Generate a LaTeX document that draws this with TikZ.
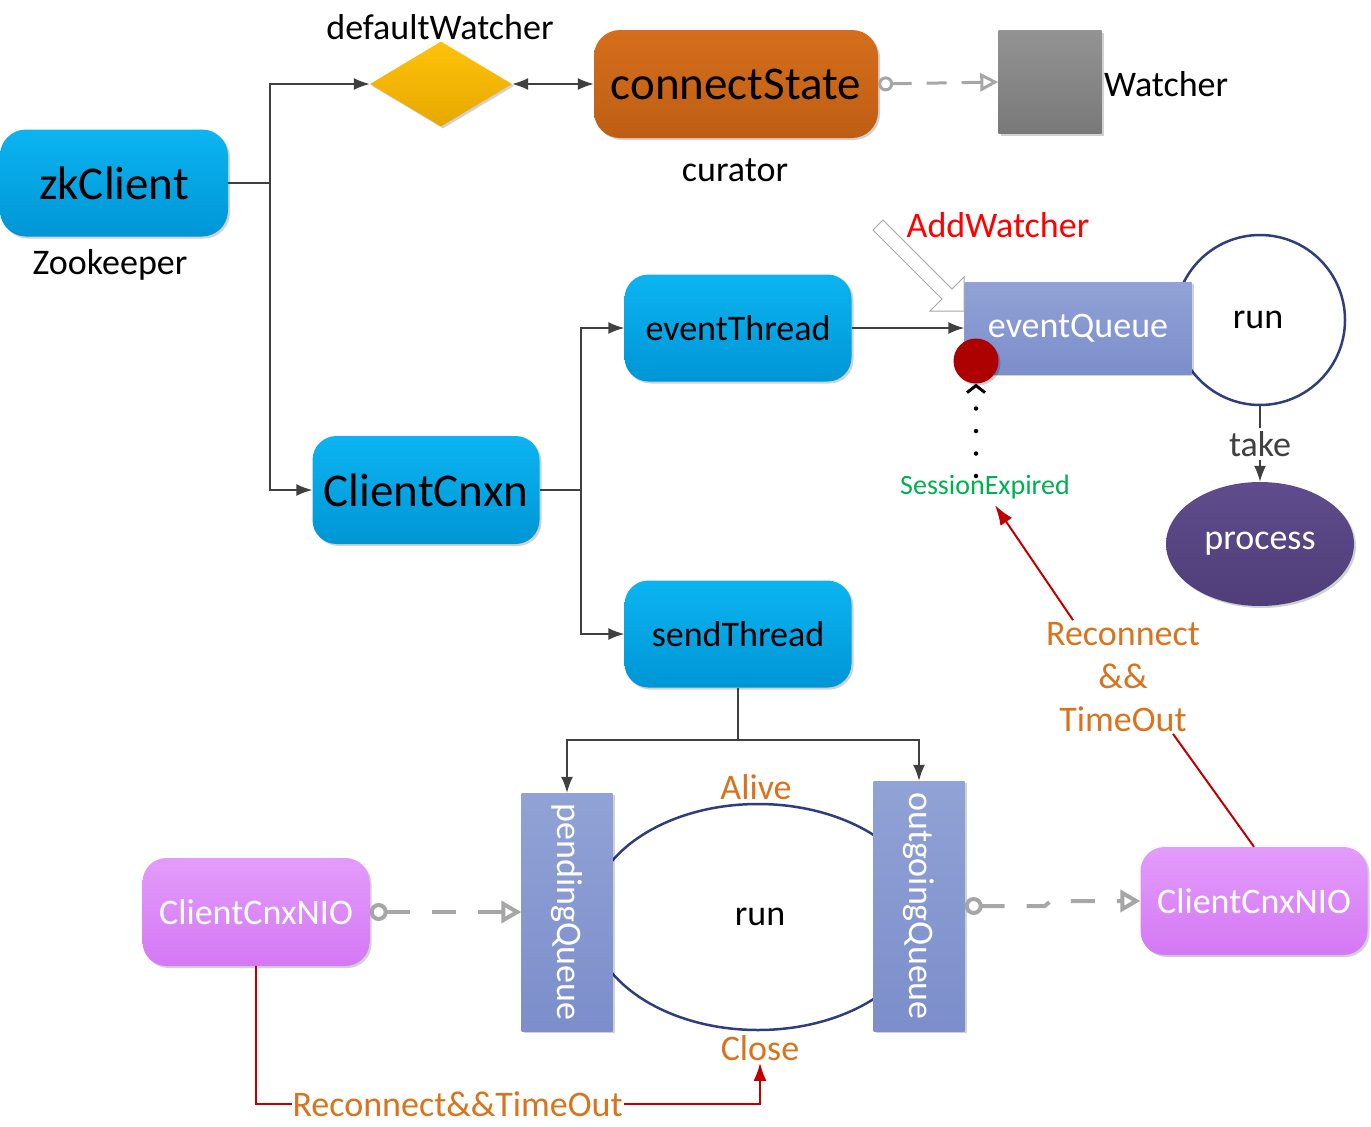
\documentclass[tikz,border=0pt]{standalone}
\usepackage{fontspec}
\usepackage{graphicx}
\setmainfont{Carlito}
\usetikzlibrary{arrows.meta,shapes.geometric,positioning,shadows}

\definecolor{cyanTop}{HTML}{0BB4F0}
\definecolor{cyanBot}{HTML}{0096D6}
\definecolor{orangeTop}{HTML}{D56E1C}
\definecolor{orangeBot}{HTML}{BE5E14}
\definecolor{yellowTop}{HTML}{FFC20A}
\definecolor{yellowBot}{HTML}{E6A800}
\definecolor{queueTop}{HTML}{91A2D6}
\definecolor{queueBot}{HTML}{7C8ECB}
\definecolor{pinkTop}{HTML}{E39CFB}
\definecolor{pinkBot}{HTML}{D478F4}
\definecolor{procTop}{HTML}{5F4C8C}
\definecolor{procBot}{HTML}{4F3E79}
\definecolor{navy}{HTML}{2F3D7C}
\definecolor{darkline}{HTML}{404040}
\definecolor{grayline}{HTML}{A6A6A6}
\definecolor{darkred}{HTML}{C00000}
\definecolor{labelorange}{HTML}{D8731E}
\definecolor{sessgreen}{HTML}{00B050}

\begin{document}
\begin{tikzpicture}[
    x=1pt, y=-1pt,
    font=\fontsize{36}{43}\selectfont,
    softshadow/.style={drop shadow={shadow xshift=2pt,shadow yshift=-2pt,opacity=0.18,fill=black}},
    thread/.style={rectangle,rounded corners=24pt,top color=cyanTop,bottom color=cyanBot,
        minimum width=227pt,minimum height=107pt,inner sep=0pt,softshadow},
    bigtext/.style={font=\fontsize{47}{52}\selectfont},
    nio/.style={rectangle,rounded corners=24pt,top color=pinkTop,bottom color=pinkBot,text=white,
        minimum width=227pt,minimum height=108pt,inner sep=0pt,softshadow},
    queue/.style={rectangle,top color=queueTop,bottom color=queueBot,text=white,inner sep=0pt,softshadow},
    caption/.style={inner sep=2pt},
    orangelabel/.style={text=labelorange,inner sep=2pt},
    conn/.style={darkline,line width=1.6pt,-{Latex[length=16pt,width=12pt]}},
    grayflow/.style={grayline,line width=4pt,dash pattern=on 24pt off 22pt,
        {Circle[open,length=18pt,width=18pt,line width=4pt]}-{Triangle[open,length=20pt,width=22pt,line width=4pt]}},
    redflow/.style={darkred,line width=2pt}
]
    % frame
    \useasboundingbox (0,0) rectangle (1371,1127);

    % loops drawn first, boxes sit on top of them
    \node[circle,draw=navy,line width=2.5pt,fill=white,minimum size=170pt] (runev) at (1260,320) {};
    \node at (1258,320) {run};
    \node[ellipse,draw=navy,line width=2.5pt,minimum width=336pt,minimum height=226pt] (runloop) at (758,917) {};
    \node (runtxt) at (760,917) {run};

    % top row
    \node[thread,bigtext,rounded corners=26pt,minimum width=228pt] (zk) at (114,183) {zkClient};
    \node[caption] (zklabel) at (110,265) {Zookeeper};
    \node[diamond,top color=yellowTop,bottom color=yellowBot,minimum width=142pt,minimum height=85pt,
        inner sep=0pt,softshadow] (dw) at (441,84) {};
    \node[caption] (dwlabel) at (440,27) {defaultWatcher};
    \node[rectangle,rounded corners=26pt,top color=orangeTop,bottom color=orangeBot,bigtext,
        minimum width=284pt,minimum height=108pt,inner sep=0pt,softshadow] (cs) at (736,84) {connectState};
    \node[caption] (cslabel) at (735,170) {curator};
    \node[rectangle,top color=gray!85,bottom color=gray!95!black,minimum size=103pt,softshadow] (watcher) at (1050,82) {};
    \node[caption,anchor=west] (wlabel) at (1102,84) {Watcher};

    % client side
    \node[thread,bigtext,minimum height=108pt] (cnxn) at (426,490) {ClientCnxn};
    \node[thread] (evt) at (738,328) {eventThread};
    \node[thread] (snd) at (738,634) {sendThread};

    % event queue
    \node[queue,minimum width=227pt,minimum height=92pt] (evq) at (1078,328) {eventQueue};
    \node[circle,fill=darkred!90!black,minimum size=45pt,inner sep=0pt,softshadow] (reddot) at (976,361) {};
    \node[ellipse,top color=procTop,bottom color=procBot,text=white,minimum width=188pt,
        minimum height=124pt,softshadow] (proc) at (1260,544) {process};
    \node[text=red,caption] (addw) at (998,225) {AddWatcher};
    \node[text=sessgreen,inner sep=2pt,font=\fontsize{28}{32}\selectfont] (sess) at (985,487) {SessionExpired};
    \node[orangelabel,align=center] (recon) at (1123,677) {Reconnect\\\&\&\\TimeOut};

    % send side
    \node[queue,minimum width=91pt,minimum height=238pt] (pq) at (567,912) {\rotatebox{-90}{pendingQueue}};
    \node[queue,minimum width=91pt,minimum height=250pt] (oq) at (919,906) {\rotatebox{-90}{outgoingQueue}};
    \node[orangelabel] (alive) at (756,787) {Alive};
    \node[orangelabel] (close) at (760,1048) {Close};
    \node[nio] (nioL) at (256,912) {ClientCnxNIO};
    \node[nio] (nioR) at (1254,901) {ClientCnxNIO};

    % connectors
    \draw[conn] (zk.east) -- ++(42,0) |- (dw.west);
    \draw[conn] (zk.east) -- ++(42,0) |- (cnxn.west);
    \draw[darkline,line width=1.6pt,{Latex[length=16pt,width=12pt]}-{Latex[length=16pt,width=12pt]}] (dw.east) -- (cs.west);
    \draw[grayline,line width=3pt,dash pattern=on 20pt off 15pt,
        {Circle[open,length=15pt,width=15pt,line width=3pt]}-{Triangle[open,length=18pt,width=18pt,line width=3pt]}] (cs.east) -- (watcher.west);
    \draw[conn] (cnxn.east) -- ++(41,0) |- (evt.west);
    \draw[conn] (cnxn.east) -- ++(41,0) |- (snd.west);
    \draw[conn] (evt.east) -- (evq.west);
    \draw[conn] (runev.south) -- node[fill=white,inner sep=3pt] {take} (proc.north);
    \draw[conn] (snd.south) -- ++(0,52) -| (pq.north);
    \draw[conn] (snd.south) -- ++(0,52) -| (oq.north);
    \draw[grayflow] (nioL.east) -- (pq.west);
    \draw[grayflow] (oq.east) -- ++(80,0) -- ++(6,-5) -- (nioR.west);

    % red paths
    \draw[redflow,-{Latex[length=18pt,width=13pt]}] (nioL.south) -- ++(0,138) -|
        node[pos=0.2,orangelabel,fill=white,inner sep=1pt] {Reconnect\&\&TimeOut} (close.south);
    \draw[redflow,-{Latex[length=20pt,width=14pt]}] ([xshift=-50pt]recon.north) -- ([xshift=10pt,yshift=-4pt]sess.south);
    \draw[redflow] ([xshift=50pt]recon.south) -- (nioR.north);

    % session expired, dotted
    \draw[line width=4.5pt,line cap=round,dash pattern=on 0pt off 22.5pt,
        -{Straight Barb[length=7pt,width=18pt,line width=3pt]}] (976,476) -- (reddot.south);

    % hollow arrow into the queue
    \draw[gray!70,line width=1pt,fill=white] (873,230) -- (883,220) -- (952,289) -- (964,277)
        -- (964,311) -- (930,311) -- (942,299) -- cycle;
\end{tikzpicture}
\end{document}
